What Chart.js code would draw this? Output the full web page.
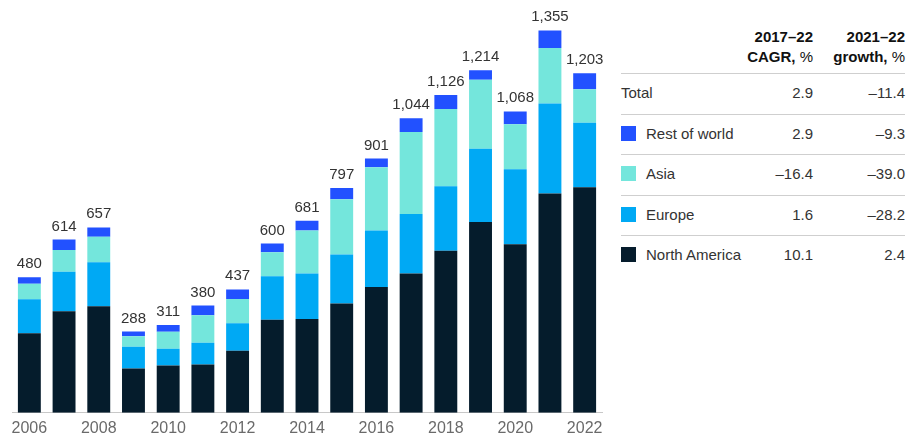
<!DOCTYPE html>
<html>
<head>
<meta charset="utf-8">
<script src="https://cdn.jsdelivr.net/npm/chart.js@4.4.0/dist/chart.umd.min.js"></script>
<style>
  body { margin: 0; background: #fff; font-family: "Liberation Sans", Arial, sans-serif; }
  #wrap { position: relative; width: 910px; height: 437px; overflow: hidden; }
  #chartBox { position: absolute; left: 0; top: 0; width: 610px; height: 444px; }
  .hdr { position: absolute; width: 120px; text-align: right; font-weight: bold; font-size: 15px; line-height: 20px; color: #111; }
  .sep { position: absolute; left: 621px; width: 284px; height: 1px; background: #cfcfcf; }
  .lbl { position: absolute; left: 621px; font-size: 15px; color: #333; line-height: 20px; white-space: nowrap; }
  .lbl i { display: inline-block; width: 15px; height: 15px; vertical-align: -2px; margin-right: 10px; }
  .val { position: absolute; width: 80px; text-align: right; font-size: 15px; color: #333; line-height: 20px; }
</style>
</head>
<body>
<div id="wrap">
  <div id="chartBox"><canvas id="myChart"></canvas></div>
  <div id="table"></div>
</div>
<script>
const years = ['2006','2007','2008','2009','2010','2011','2012','2013','2014','2015','2016','2017','2018','2019','2020','2021','2022'];

// bottom to top of each stack
const northAmerica = [282, 360, 378, 157, 168, 171, 220, 330, 332, 387, 446, 494, 574, 676, 597, 777, 799];
const europe       = [120, 140, 156,  77,  59,  77,  97, 154, 162, 174, 200, 211, 229, 260, 266, 319, 229];
const asia         = [ 55,  77,  90,  37,  60,  98,  86,  85, 152, 196, 224, 290, 274, 244, 160, 197, 119];
const restOfWorld  = [ 23,  37,  33,  17,  24,  34,  34,  31,  35,  40,  31,  49,  49,  34,  45,  62,  56];

// table on the right
const rowLabels = ['Total', 'Rest of world', 'Asia', 'Europe', 'North America'];
const rowColors = [null, '#2251ff', '#74e6dc', '#00a9f4', '#051c2c'];
const cagr      = ['2.9', '2.9', '–16.4', '1.6', '10.1'];
const growth    = ['–11.4', '–9.3', '–39.0', '–28.2', '2.4'];

const colors = { na: '#051c2c', eu: '#00a9f4', asia: '#74e6dc', row: '#2251ff' };

// build the table
const tbl = document.getElementById('table');
let html = '';
html += '<div class="hdr" style="left:693px;top:27px">2017–22<br>CAGR, <span style="font-weight:normal">%</span></div>';
html += '<div class="hdr" style="left:785px;top:27px">2021–22<br>growth, <span style="font-weight:normal">%</span></div>';
for (let i = 0; i < rowLabels.length; i++) {
  const sepY = 73 + i * 40.6;
  const cy = sepY + 20;
  html += '<div class="sep" style="top:' + sepY + 'px"></div>';
  const sq = rowColors[i] ? '<i style="background:' + rowColors[i] + '"></i>' : '';
  html += '<div class="lbl" style="top:' + (cy - 10) + 'px">' + sq + rowLabels[i] + '</div>';
  html += '<div class="val" style="left:733px;top:' + (cy - 10) + 'px">' + cagr[i] + '</div>';
  html += '<div class="val" style="left:825px;top:' + (cy - 10) + 'px">' + growth[i] + '</div>';
}
tbl.innerHTML = html;

// totals above the bars
const totalsPlugin = {
  id: 'totals',
  afterDatasetsDraw(chart) {
    const ctx = chart.ctx;
    const n = chart.data.datasets.length;
    const meta = chart.getDatasetMeta(n - 1);
    ctx.save();
    ctx.font = '15px "Liberation Sans", Arial, sans-serif';
    ctx.fillStyle = '#333';
    ctx.textAlign = 'center';
    ctx.textBaseline = 'alphabetic';
    meta.data.forEach((bar, i) => {
      let total = 0;
      chart.data.datasets.forEach(ds => total += ds.data[i]);
      ctx.fillText(total.toLocaleString('en-US'), bar.x, bar.y - 9);
    });
    ctx.restore();
  }
};

const ctx = document.getElementById('myChart');

new Chart(ctx, {
  type: 'bar',
  data: {
    labels: years,
    datasets: [
      { label: 'North America', data: northAmerica, backgroundColor: colors.na },
      { label: 'Europe', data: europe, backgroundColor: colors.eu },
      { label: 'Asia', data: asia, backgroundColor: colors.asia },
      { label: 'Rest of world', data: restOfWorld, backgroundColor: colors.row }
    ]
  },
  options: {
    responsive: true,
    maintainAspectRatio: false,
    animation: false,
    layout: { padding: { left: 12, right: 8, top: 0, bottom: 0 } },
    datasets: { bar: { categoryPercentage: 1, barPercentage: 0.66 } },
    plugins: { legend: { display: false }, tooltip: { enabled: false } },
    scales: {
      x: {
        stacked: true,
        grid: { display: false, drawTicks: false },
        border: { display: true, color: '#c8c8c8', width: 1 },
        ticks: {
          autoSkip: false,
          maxRotation: 0,
          padding: 6,
          color: '#6a6a6a',
          font: { family: '"Liberation Sans", Arial, sans-serif', size: 16 },
          callback: function (val, idx) { return idx % 2 === 0 ? this.getLabelForValue(val) : ''; }
        }
      },
      y: {
        stacked: true,
        display: false,
        min: 0,
        max: 1463
      }
    }
  },
  plugins: [totalsPlugin]
});
</script>
</body>
</html>
